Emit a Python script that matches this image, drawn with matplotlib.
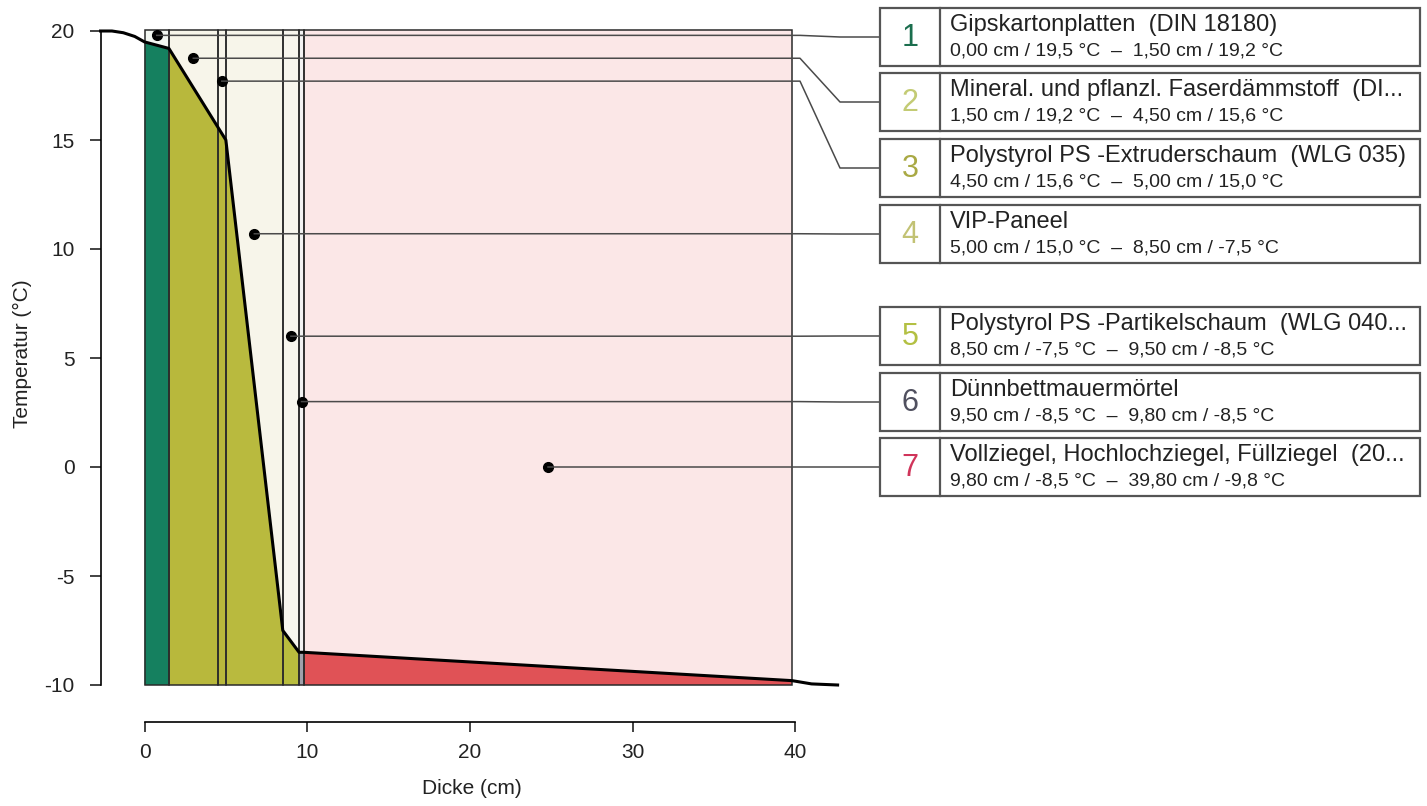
import matplotlib
matplotlib.use("Agg")
import matplotlib.pyplot as plt
from matplotlib.patches import Rectangle
import numpy as np

plt.rcParams['font.family'] = ['Liberation Sans', 'DejaVu Sans']

# ---- data ----
layer_nums = ['1', '2', '3', '4', '5', '6', '7']
layer_names = ['Gipskartonplatten  (DIN 18180)',
               'Mineral. und pflanzl. Faserdämmstoff  (DI...',
               'Polystyrol PS -Extruderschaum  (WLG 035)',
               'VIP-Paneel',
               'Polystyrol PS -Partikelschaum  (WLG 040...',
               'Dünnbettmauermörtel',
               'Vollziegel, Hochlochziegel, Füllziegel  (20...']
x_start = [0.00, 1.50, 4.50, 5.00, 8.50, 9.50, 9.80]
x_end = [1.50, 4.50, 5.00, 8.50, 9.50, 9.80, 39.80]
t_start = [19.5, 19.2, 15.6, 15.0, -7.5, -8.5, -8.5]
t_end = [19.2, 15.6, 15.0, -7.5, -8.5, -8.5, -9.8]
label_x = [0.75, 3.0, 4.75, 6.75, 9.0, 9.65, 24.8]
label_y = [19.8, 18.75, 17.7, 10.7, 6.0, 3.0, 0.0]
# surface boundary layers (inside / outside)
inner_x = [-2.7, -2.0, -1.3, -0.6, 0.0]
inner_t = [20.0, 20.0, 19.92, 19.75, 19.5]
outer_x = [39.8, 41.0, 42.6]
outer_t = [-9.8, -9.95, -10.0]
x_ticks = [0, 10, 20, 30, 40]
y_ticks = [-10, -5, 0, 5, 10, 15, 20]

# ---- styles ----
fill_colors = ['#15805f', '#b8b83c', '#b8b83c', '#b9ba3e', '#b9bd3e', '#a0a0aa', '#e05256']
bg_colors = ['#f3f7f2', '#f7f5ea', '#f7f5ea', '#f7f5ea', '#f8f6ee', '#f2f2f2', '#fbe7e7']
num_colors = ['#1b6e4e', '#c3cb74', '#a9a944', '#c2c274', '#b3c043', '#50505f', '#d0345a']

W, H = 1427, 806
fig = plt.figure(figsize=(W / 100, H / 100), dpi=100)

# main axes placement in pixels (top-origin)
L, R, T, B = 60, 870, 10, 800
ax = fig.add_axes([L / W, (H - B) / H, (R - L) / W, (B - T) / H])
px_per_cm = 16.27
x0_px = 144.5
px_per_deg = 21.8
y20_px = 31
ax.set_xlim((L - x0_px) / px_per_cm, (R - x0_px) / px_per_cm)
ax.set_ylim(20 - (B - y20_px) / px_per_deg, 20 + (y20_px - T) / px_per_deg)
ax.patch.set_alpha(0)

ybot = -10
ytop = 20.05
for i in range(len(x_start)):
    ax.add_patch(Rectangle((x_start[i], ybot), x_end[i] - x_start[i], ytop - ybot,
                           facecolor=bg_colors[i], edgecolor='none', zorder=1))
for i in range(len(x_start)):
    ax.fill_between([x_start[i], x_end[i]], [t_start[i], t_end[i]], ybot,
                    facecolor=fill_colors[i], edgecolor='none', zorder=2)
for i in range(len(x_start)):
    ax.add_patch(Rectangle((x_start[i], ybot), x_end[i] - x_start[i], ytop - ybot,
                           facecolor='none', edgecolor='#2a2a2a', lw=1.1, zorder=3))

curve_x = list(inner_x) + [x_start[0]] + list(x_end) + list(outer_x)
curve_t = list(inner_t) + [t_start[0]] + list(t_end) + list(outer_t)
ax.plot(curve_x, curve_t, color='black', lw=2.2, zorder=4, solid_joinstyle='round')

ax.plot(label_x, label_y, 'o', color='black', ms=7, zorder=6)

# axes styling (R-like detached axes)
for s in ['top', 'right']:
    ax.spines[s].set_visible(False)
ax.spines['bottom'].set_position(('data', 20 - (722 - y20_px) / px_per_deg))
ax.spines['bottom'].set_bounds(0, 40)
ax.spines['left'].set_position(('data', (101 - x0_px) / px_per_cm))
ax.spines['left'].set_bounds(-10, 20)
for s in ['bottom', 'left']:
    ax.spines[s].set_linewidth(1.2)
ax.set_xticks(x_ticks)
ax.set_yticks(y_ticks)
ax.set_yticklabels([str(v) for v in y_ticks])
ax.tick_params(axis='x', length=7, width=1.2, labelsize=15, pad=8, colors='#222222')
ax.tick_params(axis='y', length=8, width=1.2, labelsize=15, pad=11, colors='#222222')
ax.set_xlabel('Dicke (cm)', fontsize=15, color='#222222')
ax.xaxis.set_label_coords((472 - L) / (R - L), (B - 788) / (B - T))
ax.xaxis.label.set_va('center')
ax.set_ylabel('Temperatur (°C)', fontsize=15, color='#222222')
ax.yaxis.set_label_coords((22 - L) / (R - L), (B - 354) / (B - T))
ax.yaxis.label.set_va('center')

# overlay in figure pixels (top-origin) for legend boxes and connectors
ov = fig.add_axes([0, 0, 1, 1], zorder=10)
ov.set_xlim(0, W)
ov.set_ylim(H, 0)
ov.axis('off')
ov.patch.set_alpha(0)

box_tops = [8, 73, 139, 205, 307, 373, 438]
box_h = 58
bx0, bdiv, bx1 = 880, 940, 1420
for i in range(len(layer_nums)):
    top = box_tops[i]
    cy = top + box_h / 2
    dx, dy = ax.transData.transform((label_x[i], label_y[i]))
    dy = H - dy
    ov.plot([dx, 800, 840, bx0], [dy, dy, cy, cy], color='#4a4a4a', lw=1.1, zorder=1)
    ov.add_patch(Rectangle((bx0, top), bx1 - bx0, box_h, facecolor='white',
                           edgecolor='#555555', lw=1.6, zorder=2))
    ov.plot([bdiv, bdiv], [top, top + box_h], color='#555555', lw=1.6, zorder=3)
    ov.text((bx0 + bdiv) / 2, cy + 1, layer_nums[i], fontsize=22, color=num_colors[i],
            ha='center', va='center', zorder=4)
    ov.text(950, top + 17, layer_names[i], fontsize=17, color='#222222',
            ha='left', va='center', zorder=4)
    sub = (f"{x_start[i]:.2f} cm / {t_start[i]:.1f} °C  –  "
           f"{x_end[i]:.2f} cm / {t_end[i]:.1f} °C").replace('.', ',')
    ov.text(950, top + 43, sub, fontsize=14, color='#222222',
            ha='left', va='center', zorder=4)

fig.savefig('out.png', dpi=100, facecolor='white')
